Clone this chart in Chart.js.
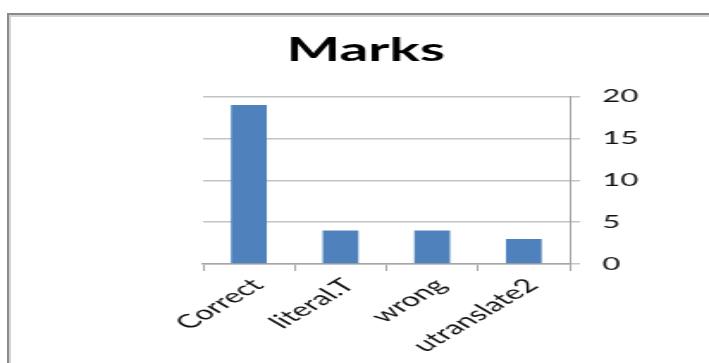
<!DOCTYPE html>
<html>
<head>
<meta charset="utf-8">
<script src="https://cdn.jsdelivr.net/npm/chart.js@4.4.1/dist/chart.umd.min.js"></script>
<style>
  html, body { margin: 0; padding: 0; background: #fff; overflow: hidden; width: 709px; height: 363px; }
  #frame {
    position: absolute; left: 7px; top: 13px; width: 730px; height: 380px;
    border-left: 2px solid #8a8a8a; border-top: 2px solid #8a8a8a;
    box-shadow: inset 2px 2px 0 #d4d4d4;
  }
  /* the chart is laid out narrow and widened horizontally */
  #wrap {
    position: absolute; left: 0; top: 0; width: 412px; height: 363px;
    transform: scaleX(1.7209); transform-origin: 0 0;
  }
</style>
</head>
<body>
<div id="frame"></div>
<div id="wrap"><canvas id="c"></canvas></div>
<script>
const categories = ['Correct', 'literal.T', 'wrong', 'utranslate2'];
const marks = [19, 4, 4, 3];
const axisMin = 0;
const axisMax = 20;
const axisStep = 5;

const gridGray = '#c4c4c4';
const axisGray = '#a6a6a6';

new Chart(document.getElementById('c'), {
  type: 'bar',
  data: {
    labels: categories,
    datasets: [{
      label: 'Marks',
      data: marks,
      backgroundColor: '#4f81bd',
      borderWidth: 0,
      categoryPercentage: 1,
      barPercentage: 0.39,
      yAxisID: 'y'
    }]
  },
  options: {
    responsive: true,
    maintainAspectRatio: false,
    animation: false,
    devicePixelRatio: 1,
    layout: { padding: { left: 44, right: 31, top: 0, bottom: 0 } },
    plugins: {
      legend: { display: false },
      tooltip: { enabled: false },
      title: {
        display: true,
        text: 'Marks',
        color: '#000',
        font: { family: 'Lato', size: 33, weight: 'bold' },
        padding: { top: 31, bottom: 26 }
      }
    },
    scales: {
      x: {
        offset: true,
        grid: { display: true, drawOnChartArea: false, drawTicks: true, tickLength: 7, color: axisGray, lineWidth: 1 },
        border: { display: true, color: axisGray, width: 1.5 },
        ticks: { color: '#111', font: { family: 'Lato', size: 19 }, minRotation: 45, maxRotation: 45, autoSkip: false, padding: 3, labelOffset: 5 },
        afterFit(scale) { scale.height = 99; }
      },
      y: {
        position: 'right',
        min: axisMin,
        max: axisMax,
        grid: { color: gridGray, lineWidth: 1.5, drawTicks: true, tickLength: 6, tickColor: gridGray },
        border: { display: true, color: axisGray, width: 1 },
        ticks: { stepSize: axisStep, color: '#111', font: { family: 'Lato', size: 18 }, padding: 13 },
        afterFit(scale) { scale.width = 50; }
      },
      spacer: {
        type: 'linear',
        position: 'left',
        display: true,
        grid: { display: false },
        border: { display: false },
        ticks: { display: false },
        afterFit(scale) { scale.width = 74; }
      }
    }
  }
});
</script>
</body>
</html>
